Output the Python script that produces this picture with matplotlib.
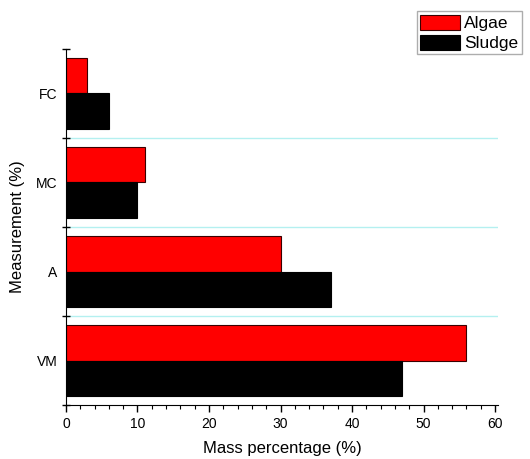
import matplotlib
matplotlib.use("Agg")
import matplotlib.pyplot as plt
import numpy as np

plt.rcParams['font.family'] = ['Liberation Sans', 'DejaVu Sans']

# Data (mass percentage)
categories = ['VM', 'A', 'MC', 'FC']
algae = [56, 30, 11, 3]
sludge = [47, 37, 10, 6]

fig = plt.figure(figsize=(5.30, 4.59), dpi=100)
ax = fig.add_axes([0.1245, 0.1176, 0.815, 0.7757])

y = np.arange(len(categories))
h = 0.4
ax.barh(y + h / 2, algae, height=h, color='#ff0000', edgecolor='#3a0000', linewidth=0.8, label='Algae')
ax.barh(y - h / 2, sludge, height=h, color='#000000', edgecolor='#000000', linewidth=0.8, label='Sludge')

# cyan separators between categories
for b in y[:-1] + 0.5:
    ax.axhline(b, color='#b4f0f0', linewidth=1.0, zorder=0)

ax.set_xlim(0, 60.4)
ax.set_ylim(-0.5, len(categories) - 0.5)

ax.set_xticks(np.arange(0, 61, 10))
ax.set_xticks(np.arange(0, 61, 2), minor=True)
ax.set_yticks(np.arange(-0.5, len(categories), 1.0))
ax.set_yticklabels([])
ax.set_yticks(y, minor=True)
ax.set_yticklabels(categories, minor=True)

ax.tick_params(axis='x', which='major', direction='out', length=5, width=1, labelsize=10)
ax.tick_params(axis='x', which='minor', direction='out', length=3, width=0.8)
ax.tick_params(axis='y', which='major', direction='inout', length=6, width=1)
ax.tick_params(axis='y', which='minor', length=0, labelsize=10, pad=6)

ax.spines['top'].set_visible(False)
ax.spines['right'].set_visible(False)

ax.set_xlabel('Mass percentage (%)', fontsize=12, labelpad=7)
ax.set_ylabel('Measurement (%)', fontsize=12, labelpad=8)

leg = ax.legend(loc='upper right', bbox_to_anchor=(0.985, 0.975), bbox_transform=fig.transFigure,
                fontsize=12.5, frameon=True, fancybox=False, handlelength=2.3, handleheight=0.95,
                borderpad=0.2, labelspacing=0.18, handletextpad=0.25, borderaxespad=0)
leg.get_frame().set_edgecolor('#999999')
leg.get_frame().set_linewidth(1.0)

plt.savefig('out.png', dpi=100)
